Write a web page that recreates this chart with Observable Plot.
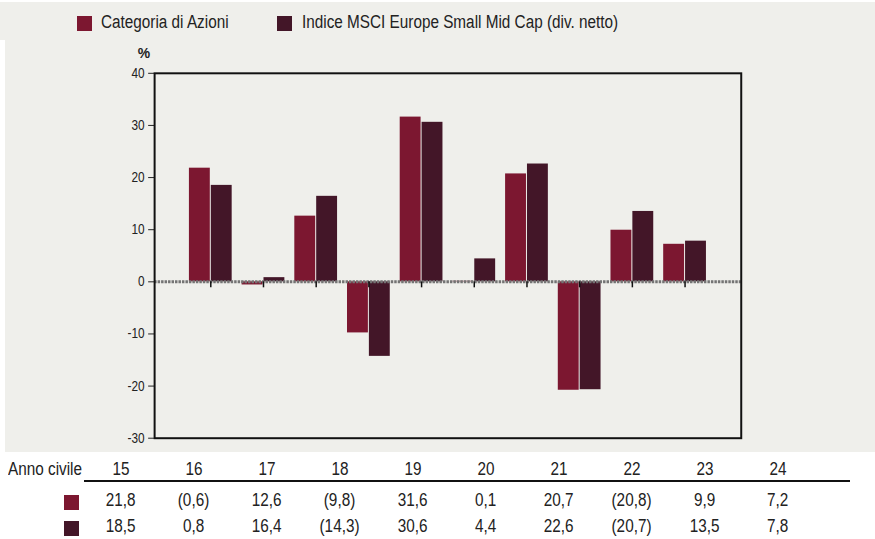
<!DOCTYPE html>
<html><head><meta charset="utf-8">
<script src="https://cdn.jsdelivr.net/npm/d3@7"></script>
<script src="https://cdn.jsdelivr.net/npm/@observablehq/plot@0.6"></script>
<style>
body{margin:0;background:#fff;font-family:"Liberation Sans Narrow","Arial Narrow","Liberation Sans",Arial,sans-serif;color:#222;}
#wrap{position:relative;width:875px;height:539px;overflow:hidden;}
#legend{position:absolute;left:0;top:2px;width:875px;height:38px;background:#efefeb;}
.sw{position:absolute;width:15px;height:15px;}
.lt{position:absolute;font-size:18px;line-height:22px;white-space:nowrap;}
.lt span{display:inline-block;transform:scaleX(0.85);transform-origin:left center;}
#chart{position:absolute;left:5px;top:40px;width:870px;height:412px;background:#efefeb;overflow:hidden;}
#chart svg{position:absolute;left:-5px;top:0;}
.cell{position:absolute;width:80px;text-align:center;font-size:18px;line-height:22px;white-space:nowrap;}
.cell span{display:inline-block;transform:scaleX(0.85);transform-origin:center center;}
#rule{position:absolute;left:84px;top:480px;width:766px;height:2px;background:#111;}
</style>
</head><body>
<div id="wrap">
  <div id="legend"></div>
  <div id="chart"></div>
  <div id="table"></div>
</div>
<script>
const years = ["15","16","17","18","19","20","21","22","23","24"];
const categoria = [21.8, -0.6, 12.6, -9.8, 31.6, 0.1, 20.7, -20.8, 9.9, 7.2];
const indice = [18.5, 0.8, 16.4, -14.3, 30.6, 4.4, 22.6, -20.7, 13.5, 7.8];
const seriesNames = ["Categoria di Azioni", "Indice MSCI Europe Small Mid Cap (div. netto)"];
const colors = ["#7c1730", "#431628"];
const yTicks = [-30, -20, -10, 0, 10, 20, 30, 40];
const rowTitle = "Anno civile";
const yUnit = "%";

const fmt = v => v < 0 ? "(" + (-v).toFixed(1).replace(".", ",") + ")" : v.toFixed(1).replace(".", ",");

function textDiv(parent, cls, text, left, top, width) {
  const d = document.createElement("div");
  d.className = cls;
  d.style.left = left + "px"; d.style.top = top + "px";
  if (width) d.style.width = width + "px";
  const s = document.createElement("span");
  s.textContent = text;
  d.appendChild(s);
  parent.appendChild(d);
}
function swatch(parent, left, top, color) {
  const s = document.createElement("div");
  s.className = "sw"; s.style.left = left + "px"; s.style.top = top + "px"; s.style.background = color;
  parent.appendChild(s);
}

// Legend
const legend = document.getElementById("legend");
const legendPos = [{sw: 77, tx: 101}, {sw: 277, tx: 302}];
seriesNames.forEach((name, i) => {
  swatch(legend, legendPos[i].sw, 14, colors[i]);
  textDiv(legend, "lt", name, legendPos[i].tx, 9);
});

// Chart
const data = years.flatMap((y, i) => [
  {year: y, series: seriesNames[0], value: categoria[i]},
  {year: y, series: seriesNames[1], value: indice[i]}
]);
const plot = Plot.plot({
  width: 875, height: 412,
  marginTop: 33, marginBottom: 12, marginLeft: 155, marginRight: 130,
  style: {background: "transparent", fontFamily: '"Liberation Sans Narrow","Arial Narrow","Liberation Sans",sans-serif', fontSize: "14px", color: "#222"},
  x: {type: "band", domain: years, paddingInner: 0.18, paddingOuter: 0.59, axis: null},
  y: {domain: [-30, 40], ticks: yTicks, tickSize: 6, tickPadding: 4, label: null, tickFormat: d => String(d)},
  marks: [
    Plot.barY(data.filter(d => d.series === seriesNames[0]), {x: "year", y: "value", fill: colors[0], insetRight: 22}),
    Plot.barY(data.filter(d => d.series === seriesNames[1]), {x: "year", y: "value", fill: colors[1], insetLeft: 22}),
    Plot.ruleY([0], {stroke: "#747474", strokeWidth: 3, strokeDasharray: "2.5,1"}),
    Plot.ruleX(years, {x: d => d, y1: 0, y2: -1.15, stroke: "#111", strokeWidth: 1.5}),
    Plot.frame({stroke: "#111", strokeWidth: 2}),
    Plot.text([yUnit], {frameAnchor: "top-left", dx: -17, dy: -25, fontWeight: "bold", fontSize: 14})
  ]
});
// narrow the y tick labels to mimic a condensed face
d3.select(plot).selectAll('g[aria-label="y-axis tick label"] text').each(function() {
  const tr = this.getAttribute("transform") || "";
  this.setAttribute("transform", tr + " scale(0.85,1)");
});
document.getElementById("chart").appendChild(plot);

// Table
const table = document.getElementById("table");
textDiv(table, "lt", rowTitle, 8, 458);
const rule = document.createElement("div"); rule.id = "rule"; table.appendChild(rule);
years.forEach((y, i) => {
  const cx = 121 + 73 * i;
  textDiv(table, "cell", y, cx - 40, 458);
  textDiv(table, "cell", fmt(categoria[i]), cx - 40, 489);
  textDiv(table, "cell", fmt(indice[i]), cx - 40, 515);
});
swatch(table, 64, 495, colors[0]);
swatch(table, 64, 521, colors[1]);
</script>
</body></html>
